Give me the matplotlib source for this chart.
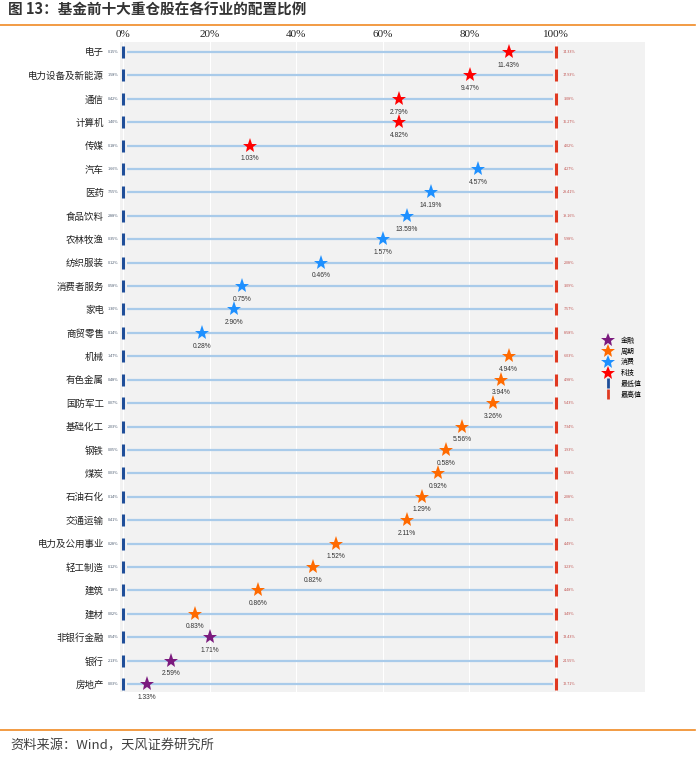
import matplotlib
matplotlib.use("Agg")
import matplotlib.pyplot as plt
from matplotlib.lines import Line2D

plt.rcParams['font.family'] = ['Noto Sans CJK SC', 'DejaVu Sans']

categories = ["电子", "电力设备及新能源", "通信", "计算机", "传媒", "汽车", "医药", "食品饮料",
              "农林牧渔", "纺织服装", "消费者服务", "家电", "商贸零售", "机械", "有色金属", "国防军工",
              "基础化工", "钢铁", "煤炭", "石油石化", "交通运输", "电力及公用事业", "轻工制造", "建筑",
              "建材", "非银行金融", "银行", "房地产"]
groups = ["科技"] * 5 + ["消费"] * 8 + ["周期"] * 12 + ["金融"] * 3
current = [11.43, 9.47, 2.79, 4.82, 1.03, 4.57, 14.19, 13.59, 1.57, 0.46, 0.75, 2.90, 0.28,
           4.94, 3.94, 3.26, 5.56, 0.58, 0.92, 1.29, 2.11, 1.52, 0.82, 0.86, 0.83, 1.71, 2.59, 1.33]
percentile = [89.1, 80.1, 63.7, 63.7, 29.3, 82.0, 71.1, 65.6, 60.0, 45.7, 27.5, 25.6, 18.2,
              89.1, 87.3, 85.5, 78.3, 74.6, 72.7, 69.1, 65.6, 49.2, 43.9, 31.2, 16.6, 20.1, 11.1, 5.5]
min_vals = [0.15, 1.58, 0.42, 1.40, 0.18, 1.66, 7.55, 2.88, 0.35, 0.12, 0.58, 1.30, 0.14,
            1.47, 0.48, 0.07, 2.03, 0.05, 0.03, 0.14, 0.41, 0.28, 0.12, 0.18, 0.02, 0.54, 2.13, 0.03]
max_vals = [14.33, 17.93, 3.08, 16.27, 4.02, 4.27, 28.41, 19.16, 5.98, 2.08, 3.09, 7.57, 8.58,
            6.03, 4.98, 5.43, 7.34, 1.93, 5.58, 2.08, 3.54, 4.49, 3.23, 4.48, 3.49, 13.43, 24.55, 12.71]
xticks = [0, 20, 40, 60, 80, 100]
xtick_labels = ["0%", "20%", "40%", "60%", "80%", "100%"]
legend_labels = ["金融", "周期", "消费", "科技", "最低值", "最高值"]

colors = {"金融": "#7B1A7E", "周期": "#FF6A00", "消费": "#1E90FF", "科技": "#FF0000"}
min_color = "#1F4E99"
max_color = "#E03A22"
line_color = "#A9CBEA"

W, H = 700, 762
fig = plt.figure(figsize=(7, 7.62), dpi=100)
fig.patch.set_facecolor("white")

# title and decorations
fig.text(8 / W, 1 - 10 / H, "图 13：基金前十大重仓股在各行业的配置比例", fontsize=10.5,
         fontweight="bold", color="#333333", va="center", ha="left")
fig.add_artist(Line2D([0, 695 / W], [1 - 25 / H, 1 - 25 / H], color="#F08A24", lw=1.2))
fig.add_artist(Line2D([0, 695 / W], [1 - 730 / H, 1 - 730 / H], color="#F08A24", lw=1.2))
fig.text(10 / W, 1 - 746 / H, "资料来源：Wind，天风证券研究所", fontsize=9.5, color="#404040",
         va="center", ha="left")

top_px, bot_px = 42, 692
ax = fig.add_axes([120 / W, 1 - bot_px / H, 525 / W, (bot_px - top_px) / H])
ax.set_facecolor("#F2F2F2")
for s in ax.spines.values():
    s.set_visible(False)

n = len(categories)
spacing = (684 - 52) / (n - 1)
ax.set_xlim(-3 / 4.33, (645 - 123) / 4.33)
ax.set_ylim(n - 1 + (bot_px - 684) / spacing, -(52 - top_px) / spacing)

for xt in xticks:
    ax.axvline(xt, color="white", lw=0.8, zorder=0.5)

ys = list(range(n))
for i in ys:
    ax.plot([1.0, 99.2], [i, i], color=line_color, lw=1.6, zorder=1, solid_capstyle="butt")
    ax.plot([0], [i], marker="|", color=min_color, markersize=8, mew=2.2, zorder=3)
    ax.plot([100], [i], marker="|", color=max_color, markersize=8, mew=2.2, zorder=3)
    ax.plot([percentile[i]], [i], marker="*", color=colors[groups[i]], markersize=11,
            markeredgewidth=0, zorder=4)
    ax.annotate(f"{current[i]:.2f}%", (percentile[i], i), xytext=(0, -9.5),
                textcoords="offset points", ha="center", va="center", fontsize=4.8,
                color="#333333", family=["Liberation Sans", "DejaVu Sans"])
    ax.annotate(f"{min_vals[i]:.2f}%", (0, i), xytext=(-7.2, 0), textcoords="offset points",
                ha="center", va="center", fontsize=2.7, color="#44546A")
    ax.annotate(f"{max_vals[i]:.2f}%", (100, i), xytext=(9.5, 0), textcoords="offset points",
                ha="center", va="center", fontsize=2.7, color="#C0504D")

ax.set_yticks(ys)
ax.set_yticklabels(categories, fontsize=6.8, color="#222222")
ax.tick_params(axis="y", length=0, pad=11.5)
ax.xaxis.tick_top()
ax.set_xticks(xticks)
ax.set_xticklabels(xtick_labels, fontsize=8, color="#222222", family="Liberation Serif")
ax.tick_params(axis="x", length=0, pad=2)

# legend
handles = [Line2D([], [], marker="*", color=colors[g], ls="none", markersize=10, mew=0)
           for g in ["金融", "周期", "消费", "科技"]]
handles += [Line2D([], [], marker="|", color=min_color, ls="none", markersize=7, mew=2),
            Line2D([], [], marker="|", color=max_color, ls="none", markersize=7, mew=2)]
leg = ax.legend(handles, legend_labels, loc="upper left",
                bbox_to_anchor=((602 - 120) / 525, 1 - (334 - top_px) / (bot_px - top_px)),
                frameon=False, fontsize=5, handlelength=1.0, handletextpad=1.3,
                labelspacing=0.4, borderaxespad=0)

fig.savefig("out.png", dpi=100)
